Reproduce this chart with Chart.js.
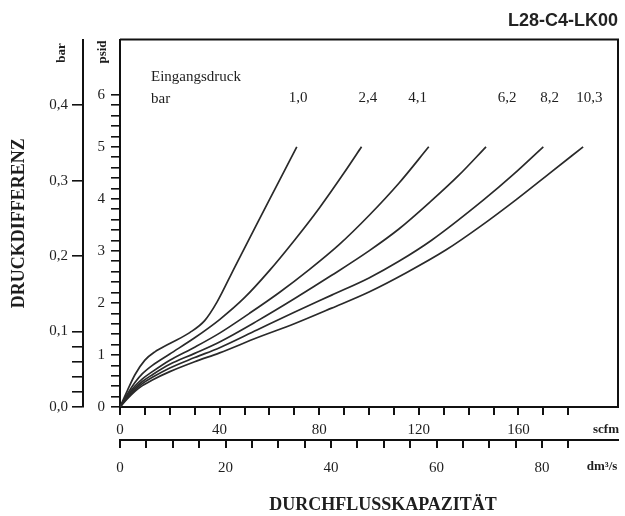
<!DOCTYPE html>
<html>
<head>
<meta charset="utf-8">
<script src="https://cdn.jsdelivr.net/npm/chart.js@4"></script>
<style>
  html, body { margin: 0; background: #fff; }
</style>
</head>
<body>
<canvas id="chart" width="625" height="516"></canvas>
<script>
// flow in scfm, pressure drop in psid, one pair of arrays per inlet pressure
const flow_10 = [0, 3, 6, 10, 14, 20, 28, 34, 39, 46, 55, 63, 71];
const dp_10   = [0, 0.32, 0.62, 0.9, 1.06, 1.22, 1.43, 1.66, 2.02, 2.68, 3.52, 4.26, 5.0];

const flow_24 = [0, 3, 6, 9, 13, 20, 30, 40, 50, 60, 70, 80, 90, 97];
const dp_24   = [0, 0.25, 0.47, 0.64, 0.8, 1.02, 1.33, 1.68, 2.1, 2.62, 3.2, 3.82, 4.5, 5.0];

const flow_41 = [0, 3, 6, 9, 13, 20, 30, 40, 52, 64, 76, 88, 100, 112, 124];
const dp_41   = [0, 0.22, 0.4, 0.54, 0.68, 0.9, 1.15, 1.42, 1.8, 2.2, 2.64, 3.12, 3.68, 4.3, 5.0];

const flow_62 = [0, 3, 6, 9, 13, 20, 30, 40, 55, 70, 85, 100, 112, 125, 136, 147];
const dp_62   = [0, 0.2, 0.36, 0.49, 0.62, 0.82, 1.03, 1.25, 1.65, 2.08, 2.53, 3.0, 3.42, 3.96, 4.45, 5.0];

const flow_82 = [0, 3, 6, 9, 13, 20, 30, 40, 55, 70, 85, 100, 112, 125, 146, 158, 170];
const dp_82   = [0, 0.18, 0.33, 0.45, 0.57, 0.75, 0.95, 1.14, 1.48, 1.82, 2.15, 2.48, 2.8, 3.2, 3.98, 4.47, 5.0];

const flow_103 = [0, 3, 6, 9, 13, 20, 30, 40, 55, 70, 85, 100, 115, 131, 145, 159, 172, 186];
const dp_103   = [0, 0.16, 0.3, 0.41, 0.52, 0.68, 0.87, 1.04, 1.33, 1.6, 1.9, 2.21, 2.58, 3.02, 3.48, 3.98, 4.47, 5.0];

const pressures = ['1,0', '2,4', '4,1', '6,2', '8,2', '10,3'];
const flows = [flow_10, flow_24, flow_41, flow_62, flow_82, flow_103];
const drops = [dp_10, dp_24, dp_41, dp_62, dp_82, dp_103];

// where the pressure labels sit along the scfm axis
const labelAt = [71.5, 99.5, 119.5, 155.5, 172.5, 188.5];

const PSI_TO_BAR = 0.0689476;
const SCFM_TO_DM3S = 0.471947;
const scfmMax = 200;
const psidMax = 7.06;

const serif = 'Liberation Serif';
const ink = '#1e1e1e';

const datasets = pressures.map((p, i) => ({
  label: p + ' bar',
  data: flows[i].map((f, j) => ({ x: f, y: drops[i][j] })),
  borderColor: '#2a2a2a',
  borderWidth: 1.7,
  pointRadius: 0,
  cubicInterpolationMode: 'monotone',
  xAxisID: 'x',
  yAxisID: 'y'
}));

function near(v, step) {
  return Math.abs(v / step - Math.round(v / step)) < 1e-6;
}

// frame + loose texts
const decor = {
  id: 'decor',
  afterDraw(chart) {
    const { ctx, chartArea: a, scales } = chart;
    ctx.save();
    ctx.strokeStyle = '#111';
    ctx.lineWidth = 2;
    ctx.beginPath();
    ctx.moveTo(a.left, a.top);
    ctx.lineTo(a.right, a.top);
    ctx.lineTo(a.right, a.bottom);
    ctx.stroke();

    ctx.fillStyle = ink;
    ctx.font = '15px "' + serif + '"';
    ctx.textAlign = 'left';
    ctx.textBaseline = 'middle';
    ctx.fillText('Eingangsdruck', 151, 77);
    ctx.fillText('bar', 151, 99);
    ctx.textAlign = 'center';
    pressures.forEach((p, i) => {
      ctx.fillText(p, scales.x.getPixelForValue(labelAt[i]), 98);
    });

    ctx.font = 'bold 13px "' + serif + '"';
    ctx.fillText('scfm', 606, 430);
    ctx.fillText('dm³/s', 602, 467);

    ctx.save();
    ctx.translate(62, 53);
    ctx.rotate(-Math.PI / 2);
    ctx.fillText('bar', 0, 0);
    ctx.restore();
    ctx.save();
    ctx.translate(103, 52);
    ctx.rotate(-Math.PI / 2);
    ctx.fillText('psid', 0, 0);
    ctx.restore();

    ctx.font = 'bold 18px "' + serif + '"';
    ctx.fillText('DURCHFLUSSKAPAZITÄT', 383, 505);
    ctx.restore();
  }
};

const tickFont = { family: serif, size: 15 };

new Chart(document.getElementById('chart'), {
  type: 'line',
  data: { datasets },
  plugins: [decor],
  options: {
    responsive: false,
    animation: false,
    layout: { padding: { left: 0, right: 7, top: 0, bottom: 0 } },
    plugins: {
      legend: { display: false },
      tooltip: { enabled: false },
      title: {
        display: true,
        text: 'L28-C4-LK00',
        align: 'end',
        color: '#222',
        font: { family: 'Liberation Sans', weight: 'bold', size: 18 },
        padding: { top: 10, bottom: 8 }
      }
    },
    scales: {
      x: {
        type: 'linear',
        position: 'bottom',
        weight: 0,
        min: 0,
        max: scfmMax,
        border: { color: '#111', width: 2 },
        grid: { drawOnChartArea: false, tickLength: 8, color: '#111', lineWidth: 2 },
        ticks: {
          stepSize: 10, autoSkip: false, maxRotation: 0, padding: 6,
          color: ink, font: tickFont,
          callback: v => near(v, 40) ? v : ''
        },
        afterBuildTicks: s => { s.ticks = s.ticks.filter(t => t.value <= 180.001); },
        afterFit: s => { s.height = 33; }
      },
      x2: {
        type: 'linear',
        position: 'bottom',
        weight: 1,
        min: 0,
        max: scfmMax * SCFM_TO_DM3S,
        border: { color: '#111', width: 2 },
        grid: { drawOnChartArea: false, tickLength: 8, color: '#111', lineWidth: 2 },
        ticks: {
          stepSize: 5, autoSkip: false, maxRotation: 0, padding: 11,
          color: ink, font: tickFont,
          callback: v => near(v, 20) ? v : ''
        },
        afterBuildTicks: s => { s.ticks = s.ticks.filter(t => t.value <= 85.001); },
        afterFit: s => { s.height = 76; }
      },
      y: {
        type: 'linear',
        position: 'left',
        weight: 0,
        min: 0,
        max: psidMax,
        border: { color: '#111', width: 2 },
        grid: { drawOnChartArea: false, tickLength: 9, color: '#111', lineWidth: 1.6 },
        ticks: {
          stepSize: 0.2, autoSkip: false, padding: 6,
          color: ink, font: tickFont,
          callback: v => near(v, 1) ? Math.round(v) : ''
        },
        afterBuildTicks: s => { s.ticks = s.ticks.filter(t => t.value <= 6.001); },
        afterFit: s => { s.width = 37; }
      },
      y2: {
        type: 'linear',
        position: 'left',
        weight: 1,
        min: 0,
        max: psidMax * PSI_TO_BAR,
        border: { color: '#111', width: 2 },
        grid: { drawOnChartArea: false, tickLength: 11, color: '#111', lineWidth: 1.6 },
        ticks: {
          stepSize: 0.02, autoSkip: false, padding: 4,
          color: ink, font: tickFont,
          callback: v => near(v, 0.1) ? v.toFixed(1).replace('.', ',') : ''
        },
        afterBuildTicks: s => {
          s.ticks = s.ticks.filter(t => t.value <= 0.4001 && (t.value <= 0.1001 || near(t.value, 0.1)));
        },
        afterFit: s => { s.width = 83; },
        title: {
          display: true,
          text: 'DRUCKDIFFERENZ',
          color: ink,
          font: { family: serif, weight: 'bold', size: 18 },
          padding: { top: 9, bottom: 0 }
        }
      }
    }
  }
});
</script>
</body>
</html>
